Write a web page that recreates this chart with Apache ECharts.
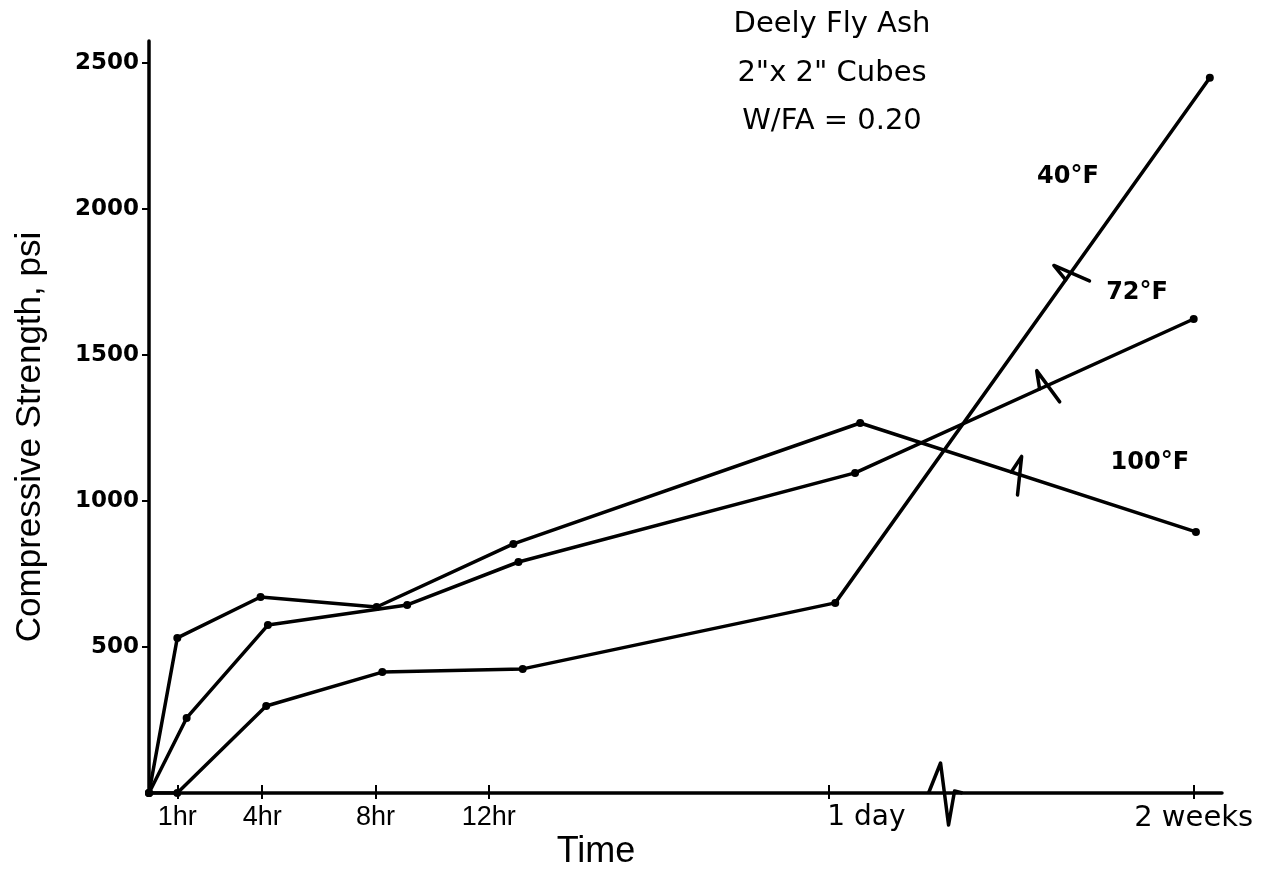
<!DOCTYPE html>
<html>
<head>
<meta charset="utf-8">
<script src="https://cdn.jsdelivr.net/npm/echarts@6/dist/echarts.min.js"></script>
<style>
  html, body { margin: 0; padding: 0; background: #fff; }
  #chart { width: 1266px; height: 895px; }
</style>
</head>
<body>
<div id="chart"></div>
<script>
// Curing temperatures
const seriesNames = ['40°F', '72°F', '100°F'];

// Age in hours (2 weeks plotted past the axis break) and strength in psi
const hours40 = [0, 1.0, 4.14, 8.24, 13.2, 24.24, 37.47];
const psi40 = [0, 0, 298, 414, 425, 651, 2449];

const hours72 = [0, 1.33, 4.2, 9.12, 13.05, 24.94, 36.9];
const psi72 = [0, 257, 575, 644, 791, 1096, 1623];

const hours100 = [0, 1.0, 3.94, 8.04, 12.87, 25.12, 36.98];
const psi100 = [0, 531, 671, 637, 853, 1267, 894];

// Time axis ticks
const tickHours = [1, 4, 8, 12, 24, 36.9];
const tickLabels = ['1hr', '4hr', '8hr', '12hr', '1 day', '2 weeks'];

// Strength axis ticks
const psiTicks = [500, 1000, 1500, 2000, 2500];

// Scale breaks: one on the last segment of each curve, one on the time axis
const lineBreakHours = [32.5, 31.65, 30.66];
const axisBreakHours = 28.1;

const allHours = [hours40, hours72, hours100];
const allPsi = [psi40, psi72, psi100];

const chart = echarts.init(document.getElementById('chart'));

const pair = (hs, vs) => hs.map((h, i) => [h, vs[i]]);

const labelFont = {
  fontFamily: 'DejaVu Sans',
  fontWeight: 'bold',
  fontSize: 24,
  color: '#000'
};

// Annotation placement for each curve name (hours, psi)
const nameSpots = [[32.46, 2110], [34.9, 1712], [35.35, 1130]];

const lineSeries = seriesNames.map((name, k) => ({
  name: name,
  type: 'line',
  data: pair(allHours[k], allPsi[k]),
  symbol: 'circle',
  symbolSize: 8,
  showSymbol: true,
  lineStyle: { color: '#000', width: 3.5 },
  itemStyle: { color: '#000' },
  z: 3,
  markPoint: {
    symbol: 'circle',
    symbolSize: 0,
    silent: true,
    data: [{ coord: nameSpots[k], value: name }],
    label: Object.assign({ show: true, position: 'inside', formatter: name }, labelFont)
  }
}));

// Zig-zag drawn across a curve where its last segment spans the time break
function renderLineBreak(params, api) {
  const k = params.dataIndex;
  const hs = allHours[k], vs = allPsi[k];
  const n = hs.length;
  const a = api.coord([hs[n - 2], vs[n - 2]]);
  const b = api.coord([hs[n - 1], vs[n - 1]]);
  const t = (api.value(0) - hs[n - 2]) / (hs[n - 1] - hs[n - 2]);
  const cx = a[0] + (b[0] - a[0]) * t;
  const cy = a[1] + (b[1] - a[1]) * t;
  let dx = b[0] - a[0], dy = b[1] - a[1];
  const len = Math.hypot(dx, dy);
  dx /= len; dy /= len;
  let nx = dy, ny = -dx;
  if (ny > 0) { nx = -nx; ny = -ny; }
  return {
    type: 'polyline',
    shape: {
      points: [
        [cx - dx * 6, cy - dy * 6],
        [cx + nx * 18 - dx * 1, cy + ny * 18 - dy * 1],
        [cx - nx * 20 + dx * 7, cy - ny * 20 + dy * 7]
      ]
    },
    style: { stroke: '#000', lineWidth: 3.5, fill: null, lineJoin: 'round', lineCap: 'round' }
  };
}

// Spike marking the break in the time axis
function renderAxisBreak(params, api) {
  const c = api.coord([api.value(0), 0]);
  return {
    type: 'polyline',
    shape: {
      points: [
        [c[0] - 16, c[1]],
        [c[0] - 4, c[1] - 30],
        [c[0] + 4, c[1] + 32],
        [c[0] + 10, c[1] - 2],
        [c[0] + 18, c[1]]
      ]
    },
    style: { stroke: '#000', lineWidth: 3.5, fill: null, lineJoin: 'round' }
  };
}

const option = {
  animation: false,
  backgroundColor: '#fff',
  grid: { left: 149, right: 44, top: 41, bottom: 102, containLabel: false },
  xAxis: [
    {
      type: 'value',
      min: 0,
      max: 37.9,
      axisLine: { show: true, lineStyle: { color: '#000', width: 3.5 } },
      axisTick: { show: true, customValues: tickHours, length: 6, lineStyle: { color: '#000', width: 2 } },
      splitLine: { show: false },
      axisLabel: {
        show: true,
        customValues: tickHours,
        margin: 11,
        formatter: function (v) {
          const i = tickHours.indexOf(v);
          const s = i >= 0 ? tickLabels[i] : '';
          if (s === '1 day') return '{day|' + s + '}';
          if (s === '2 weeks') return '{wk|' + s + '}';
          return '{hr|' + s + '}';
        },
        rich: {
          hr: { fontFamily: 'Liberation Sans Narrow, Liberation Sans', fontSize: 27, color: '#000' },
          day: { fontFamily: 'DejaVu Sans', fontSize: 28, color: '#000', padding: [0, 0, 0, 76] },
          wk: { fontFamily: 'DejaVu Sans', fontSize: 29, color: '#000' }
        }
      }
    },
    {
      type: 'value',
      min: 0,
      max: 37.9,
      position: 'bottom',
      axisLine: { show: false },
      axisTick: { show: true, inside: true, customValues: tickHours, length: 8, lineStyle: { color: '#000', width: 2 } },
      axisLabel: { show: false },
      splitLine: { show: false }
    }
  ],
  yAxis: {
    type: 'value',
    min: 0,
    max: 2575,
    axisLine: { show: true, lineStyle: { color: '#000', width: 3.5 } },
    axisTick: { show: true, customValues: psiTicks, length: 7, lineStyle: { color: '#000', width: 2 } },
    splitLine: { show: false },
    axisLabel: {
      show: true,
      customValues: psiTicks,
      margin: 10,
      formatter: v => String(v),
      fontFamily: 'DejaVu Sans',
      fontWeight: 'bold',
      fontSize: 23,
      color: '#000'
    }
  },
  series: lineSeries.concat([
    {
      name: 'curve breaks',
      type: 'custom',
      renderItem: renderLineBreak,
      data: lineBreakHours.map(h => [h, 0]),
      z: 4,
      silent: true
    },
    {
      name: 'time axis break',
      type: 'custom',
      renderItem: renderAxisBreak,
      data: [[axisBreakHours, 0]],
      clip: false,
      z: 5,
      silent: true
    }
  ]),
  graphic: [
    {
      type: 'text', x: 832, y: 24,
      style: { text: 'Deely Fly Ash', fontFamily: 'DejaVu Sans', fontSize: 29, fill: '#000', align: 'center', verticalAlign: 'middle' }
    },
    {
      type: 'text', x: 832, y: 73,
      style: { text: '2"x 2" Cubes', fontFamily: 'DejaVu Sans', fontSize: 29, fill: '#000', align: 'center', verticalAlign: 'middle' }
    },
    {
      type: 'text', x: 832, y: 121,
      style: { text: 'W/FA = 0.20', fontFamily: 'DejaVu Sans', fontSize: 29, fill: '#000', align: 'center', verticalAlign: 'middle' }
    },
    {
      type: 'text', x: 30, y: 437, rotation: Math.PI / 2,
      style: { text: 'Compressive Strength, psi', fontFamily: 'Liberation Sans', fontSize: 35, fill: '#000', align: 'center', verticalAlign: 'middle' }
    },
    {
      type: 'text', x: 596, y: 852,
      style: { text: 'Time', fontFamily: 'Liberation Sans Narrow, Liberation Sans', fontSize: 36, fill: '#000', align: 'center', verticalAlign: 'middle' }
    }
  ]
};

chart.setOption(option);
</script>
</body>
</html>
